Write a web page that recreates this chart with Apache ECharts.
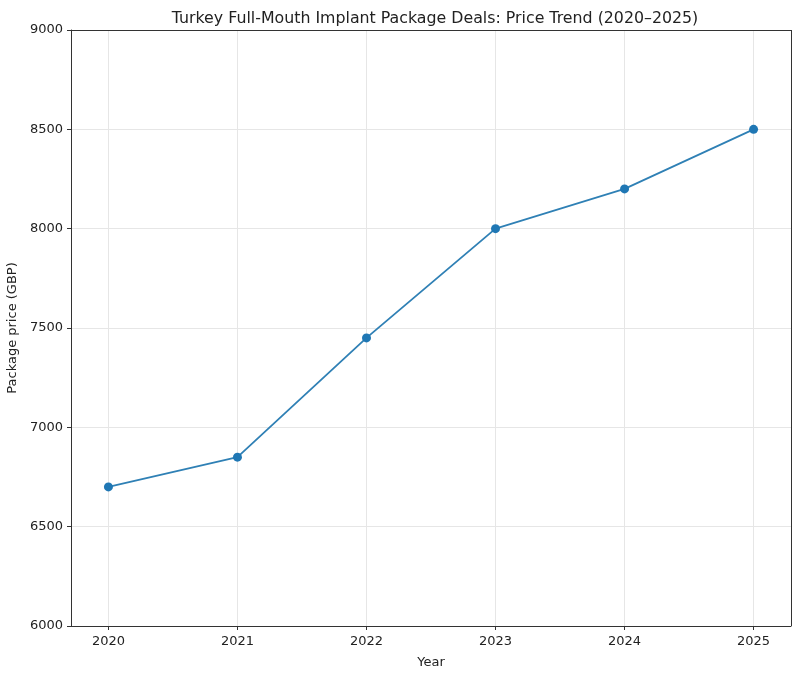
<!DOCTYPE html>
<html>
<head>
<meta charset="utf-8">
<script src="https://cdn.jsdelivr.net/npm/echarts@6/dist/echarts.min.js"></script>
<style>html,body{margin:0;padding:0;background:#fff}#c{width:800px;height:676px}</style>
</head>
<body>
<div id="c"></div>
<script>
const years = [2020, 2021, 2022, 2023, 2024, 2025];
const prices = [6700, 6850, 7450, 8000, 8200, 8500];
const yTicks = [6000, 6500, 7000, 7500, 8000, 8500, 9000];
const titleText = 'Turkey Full-Mouth Implant Package Deals: Price Trend (2020–2025)';

const chart = echarts.init(document.getElementById('c'), null, {renderer: 'canvas'});
const font = 'DejaVu Sans';
chart.setOption({
  animation: false,
  backgroundColor: '#fff',
  title: {
    text: titleText, left: 430, top: 6, textAlign: 'center',
    textStyle: {fontFamily: font, fontSize: 15.8, fontWeight: 'normal', color: '#222'}
  },
  grid: {left: 71, right: 9, top: 30, bottom: 50, containLabel: false, outerBoundsMode: 'none'},
  xAxis: {
    type: 'value', min: 2019.71, max: 2025.29,
    name: 'Year', nameLocation: 'middle', nameGap: 30,
    nameTextStyle: {fontFamily: font, fontSize: 13, color: '#222'},
    axisLine: {onZero: false, lineStyle: {color: '#333', width: 1}},
    axisTick: {show: true, customValues: years, length: 4, lineStyle: {color: '#333'}},
    axisLabel: {customValues: years, formatter: v => String(v), fontFamily: font, fontSize: 13, color: '#222', margin: 9},
    splitLine: {show: true, lineStyle: {color: '#e6e6e6', width: 1}}
  },
  yAxis: {
    type: 'value', min: 6000, max: 9000, interval: 500,
    name: 'Package price (GBP)', nameLocation: 'middle', nameGap: 47,
    nameTextStyle: {fontFamily: font, fontSize: 13, color: '#222'},
    axisLine: {show: true, lineStyle: {color: '#333', width: 1}},
    axisTick: {show: true, length: 4, lineStyle: {color: '#333'}},
    axisLabel: {customValues: yTicks, formatter: v => String(v), fontFamily: font, fontSize: 13, color: '#222', margin: 8},
    splitLine: {show: true, lineStyle: {color: '#e6e6e6', width: 1}}
  },
  series: [{
    type: 'line',
    data: years.map((y, i) => [y, prices[i]]),
    symbol: 'circle', symbolSize: 9,
    lineStyle: {color: '#2f80b5', width: 1.8},
    itemStyle: {color: '#1f77b4'},
    markLine: {
      silent: true, symbol: 'none', label: {show: false},
      lineStyle: {color: '#333', width: 1, type: 'solid'},
      data: [[{coord: [2019.71, 9000]}, {coord: [2025.29, 9000]}],
             [{coord: [2025.29, 6000]}, {coord: [2025.29, 9000]}]]
    }
  }]
});
</script>
</body>
</html>
